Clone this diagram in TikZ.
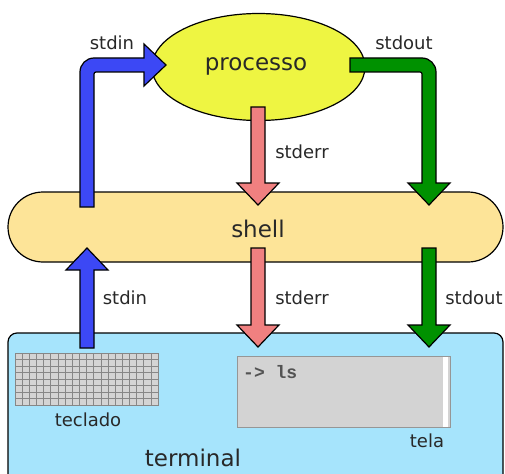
\documentclass[tikz,border=0pt]{standalone}
\usepackage{fontspec}
\setmainfont{DejaVu Sans}
\newfontfamily\monofont{Liberation Mono}
\usetikzlibrary{shapes.geometric,calc}
\definecolor{txt}{RGB}{40,40,40}
\definecolor{procfill}{RGB}{238,245,66}
\definecolor{shellfill}{RGB}{253,228,152}
\definecolor{termfill}{RGB}{166,228,252}
\definecolor{inblue}{RGB}{60,72,245}
\definecolor{outgreen}{RGB}{0,145,0}
\definecolor{errred}{RGB}{240,128,128}
\definecolor{screenfill}{RGB}{211,211,211}
\definecolor{screenline}{RGB}{150,150,150}
\definecolor{kbfill}{RGB}{212,212,212}
\definecolor{kbline}{RGB}{135,135,135}
\tikzset{
  fatarrow/.style={draw=black, line width=1.2pt, line join=miter},
  lbl/.style={font=\fontsize{18}{20}\selectfont, text=txt, inner sep=0pt},
  big/.style={font=\fontsize{23}{25}\selectfont, text=txt, inner sep=0pt},
}
\newcommand\fatdown[3]{\filldraw[fatarrow, fill=#1] let \p1=(#2), \p2=(#3) in
  (\x1-7pt,\y1) -- (\x1-7pt,\y2+22pt) -- (\x1-21pt,\y2+22pt) -- (\x1,\y2) --
  (\x1+21pt,\y2+22pt) -- (\x1+7pt,\y2+22pt) -- (\x1+7pt,\y1) -- cycle;}
\newcommand\fatup[3]{\filldraw[fatarrow, fill=#1] let \p1=(#2), \p2=(#3) in
  (\x1-7pt,\y1) -- (\x1-7pt,\y2-22pt) -- (\x1-21pt,\y2-22pt) -- (\x1,\y2) --
  (\x1+21pt,\y2-22pt) -- (\x1+7pt,\y2-22pt) -- (\x1+7pt,\y1) -- cycle;}
\begin{document}
\begin{tikzpicture}[x=1pt,y=-1pt]
\useasboundingbox (0,0) rectangle (505,473);
\clip (0,0) rectangle (505,473);

% terminal
\node[draw=black, line width=1.2pt, fill=termfill, rounded corners=9pt,
      minimum width=495pt, minimum height=160pt, inner sep=0pt] (terminal) at (255.5,413) {};
% shell
\node[draw=black, line width=1.2pt, fill=shellfill, rounded corners=35pt,
      minimum width=495pt, minimum height=70pt, inner sep=0pt] (shell) at (255.5,227) {};
\node[big] (shelltxt) at (258,229) {shell};
% processo
\node[ellipse, draw=black, line width=1.2pt, fill=procfill,
      minimum width=213pt, minimum height=107pt, inner sep=0pt] (processo) at (258.5,67) {};
\node[big] (proctxt) at (256,66) {processo};

% keyboard
\node[fill=kbfill, minimum width=143pt, minimum height=52pt, inner sep=0pt] (kbd) at (86.5,379) {};
\foreach \i in {1,...,19} \draw[kbline, line width=0.6pt] (15+\i*7.15,353) -- (15+\i*7.15,405);
\foreach \j in {1,...,7} \draw[kbline, line width=0.6pt] (15,353+\j*6.5) -- (158,353+\j*6.5);
\node[draw=kbline, line width=1pt, minimum width=143pt, minimum height=52pt, inner sep=0pt] (kbdframe) at (86.5,379) {};
\node[lbl] (teclado) at (88,420) {teclado};

% screen
\node[draw=screenline, line width=1pt, fill=screenfill, minimum width=213pt,
      minimum height=71pt, inner sep=0pt] (screen) at (343.5,391.5) {};
\fill[white] (443,356.5) rectangle (448,426.5);
\node[anchor=west, font=\monofont\bfseries\fontsize{18}{18}\selectfont, text=txt!80!white, inner sep=0pt]
      (cmd) at (243,372) {-> ls};
\node[lbl] (tela) at (427,441) {tela};
\node[big] (termtxt) at (193,458) {terminal};

% named arrow ends
\coordinate (inTail) at (87,207);
\coordinate (inTip) at (166,65);
\coordinate (outTail) at (350,65);
\coordinate (outTip) at (429,205);
\coordinate (errTail) at (258,107);
\coordinate (errTip) at (258,205);
\coordinate (in2Tail) at (87,348);
\coordinate (in2Tip) at (87,248);
\coordinate (err2Tail) at (258,248);
\coordinate (err2Tip) at (258,347);
\coordinate (out2Tail) at (429,248);
\coordinate (out2Tip) at (429,347);

% upper stdin (blue, L-shaped)
\filldraw[fatarrow, fill=inblue] let \p1=(inTail), \p2=(inTip) in
  (\x1-7pt,\y1) -- (\x1-7pt,\y2+7pt-14pt) arc[start angle=180, end angle=90, radius=14pt]
  -- (\x2-22pt,\y2+7pt) -- (\x2-22pt,\y2+21pt) -- (\x2,\y2) -- (\x2-22pt,\y2-21pt)
  -- (\x2-22pt,\y2-7pt) -- (\x1+9pt,\y2-7pt) arc[start angle=90, end angle=180, radius=2pt]
  -- (\x1+7pt,\y1) -- cycle;
% upper stdout (green, L-shaped)
\filldraw[fatarrow, fill=outgreen] let \p1=(outTail), \p2=(outTip) in
  (\x1,\y1+7pt) -- (\x2+7pt-14pt,\y1+7pt) arc[start angle=90, end angle=0, radius=14pt]
  -- (\x2+7pt,\y2+22pt) -- (\x2+21pt,\y2+22pt) -- (\x2,\y2) -- (\x2-21pt,\y2+22pt)
  -- (\x2-7pt,\y2+22pt) -- (\x2-7pt,\y1-9pt) arc[start angle=0, end angle=90, radius=2pt]
  -- (\x1,\y1-7pt) -- cycle;
\fatdown{errred}{errTail}{errTip}
\fatup{inblue}{in2Tail}{in2Tip}
\fatdown{errred}{err2Tail}{err2Tip}
\fatdown{outgreen}{out2Tail}{out2Tip}

% labels
\node[lbl] (l1) at (112,43) {stdin};
\node[lbl] (l2) at (404,43) {stdout};
\node[lbl] (l3) at (302,152) {stderr};
\node[lbl] (l4) at (125,298) {stdin};
\node[lbl] (l5) at (302,298) {stderr};
\node[lbl] (l6) at (474,298) {stdout};
\end{tikzpicture}
\end{document}
